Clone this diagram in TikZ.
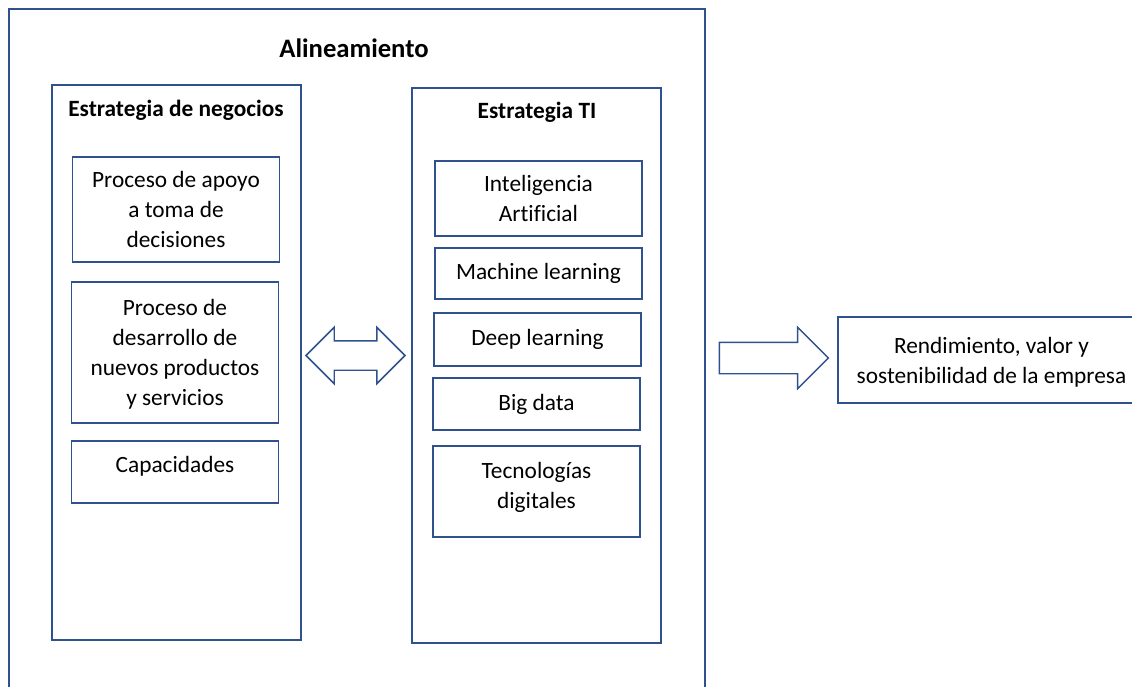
\documentclass[tikz,border=0pt]{standalone}
\usepackage{fontspec}
\setmainfont{Carlito}[Ligatures=NoCommon]
\usetikzlibrary{shapes.arrows}
\definecolor{boxblue}{RGB}{47,82,143}
\tikzset{
  frame/.style={draw=boxblue, line width=1.1pt, fill=none, inner sep=0pt},
  item/.style={frame, align=center, font=\fontsize{17.5}{22.5}\selectfont, minimum width=155pt},
  coltitle/.style={font=\fontsize{17.5}{21}\selectfont\bfseries, inner sep=0pt},
  blockarrow/.style={draw=boxblue, line width=1.1pt, fill=white, inner xsep=0pt}
}
\begin{document}
\begin{tikzpicture}[x=0.75pt, y=-0.75pt]
\useasboundingbox (0,0) rectangle (1132,686);
\clip (0,0) rectangle (1132,686);
% outer frame
\node[frame, minimum width=522pt, minimum height=518.25pt] (outer) at (357,354.5) {};
\node[font=\fontsize{20}{24}\selectfont\bfseries, inner sep=0pt] (alin) at (354,48) {Alineamiento};
% business column
\node[frame, minimum width=186.75pt, minimum height=416.25pt] (biz) at (176.5,362.5) {};
\node[coltitle] (biztitle) at (176,110) {Estrategia de negocios};
\node[item, minimum height=78.75pt, text depth=0pt] (b1) at (176,209.5) {Proceso de apoyo\\a toma de\\decisiones};
\node[item, minimum height=105.75pt, text depth=0pt] (b2) at (175,352.5) {Proceso de\\desarrollo de\\nuevos productos\\y servicios};
\node[item, minimum height=46.5pt, text depth=12pt] (b3) at (175,472) {Capacidades};
% IT column
\node[frame, minimum width=186.75pt, minimum height=416.25pt] (ti) at (536.5,365.5) {};
\node[coltitle] (tititle) at (537,112) {Estrategia TI};
\node[item, minimum height=56.25pt, text depth=0pt] (t1) at (538.5,198.5) {Inteligencia\\Artificial};
\node[item, minimum height=38.25pt, text depth=3pt] (t2) at (538.5,273.5) {Machine learning};
\node[item, minimum height=39.75pt, text depth=3pt] (t3) at (537.5,339.5) {Deep learning};
\node[item, minimum height=39pt, text depth=3pt] (t4) at (536.5,404) {Big data};
\node[item, minimum height=68.25pt, text depth=9pt] (t5) at (536.5,491.5) {Tecnologías\\digitales};
% result
\node[item, minimum width=230.25pt, minimum height=64.5pt, text depth=0pt] (res) at (991.5,360) {Rendimiento, valor y\\sostenibilidad de la empresa};
% block arrows
\node[blockarrow, double arrow, minimum height=74.25pt, inner ysep=10.5pt, double arrow head extend=10.125pt] (dbl) at (355.5,355.5) {};
\node[blockarrow, single arrow, minimum height=81.75pt, inner ysep=11.25pt, single arrow head extend=11.25pt] (sgl) at (766,358) {};
\end{tikzpicture}
\end{document}
